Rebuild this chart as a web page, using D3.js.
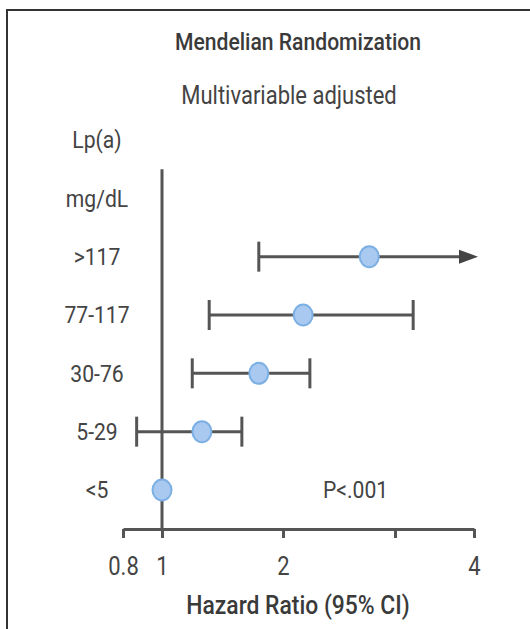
<!DOCTYPE html>
<html>
<head>
<meta charset="utf-8">
<script src="https://cdn.jsdelivr.net/npm/d3@7"></script>
<style>
  html, body { margin: 0; padding: 0; background: #fff; }
  svg { display: block; }
  text { font-family: Roboto, "Noto Sans", sans-serif; fill: #444; }
</style>
</head>
<body>
<script>
// Lp(a) categories, top to bottom
const categories = [">117", "77-117", "30-76", "5-29", "<5"];
// Hazard ratios and 95% CI bounds (null upper = interval runs off the axis)
const hazardRatio = [2.77, 2.18, 1.80, 1.33, 1.00];
const ciLower     = [1.80, 1.39, 1.25, 0.87, null];
const ciUpper     = [null, 3.23, 2.24, 1.66, null];
// Axis ticks
const tickValues = [0.8, 1, 2, 3, 4];
const tickLabels = ["0.8", "1", "2", "", "4"];
const headerRows = ["Lp(a)", "mg/dL"];

const W = 530, H = 629;
const NARROW = 0.88; // horizontal squeeze for a condensed look
const svg = d3.select("body").append("svg").attr("width", W).attr("height", H);

// Condensed text placed at (x, y)
function label(parent, x, y, str, opts = {}) {
  const t = parent.append("text")
    .attr("transform", `translate(${x},${y}) scale(${NARROW},1)`)
    .attr("text-anchor", opts.anchor || "middle")
    .attr("font-size", opts.size || 24)
    .text(str);
  if (opts.weight) t.attr("font-weight", opts.weight);
  if (opts.fill) t.style("fill", opts.fill);
  if (opts.dy) t.attr("dy", opts.dy);
  return t;
}

// Frame (top and left edges)
svg.append("path")
  .attr("d", `M7,${H} V10 H${W}`)
  .attr("fill", "none").attr("stroke", "#333").attr("stroke-width", 2);

// Titles
label(svg, 298, 50, "Mendelian Randomization", { size: 24, weight: 500, fill: "#3a3a3a" });
label(svg, 289, 104, "Multivariable adjusted", { size: 25 });

// Horizontal scale anchored at each tick
const x = d3.scaleLinear().domain(tickValues).range([123, 162, 283, 395, 474]);
// Row positions
const rows = headerRows.concat(categories);
const y = d3.scalePoint().domain(rows).range([140, 490]);
const axisY = 529;

// Row labels
const gRows = svg.append("g");
rows.forEach(r => label(gRows, 97, y(r), r, { size: 24, dy: "0.35em" }));

// Axis
const axis = d3.axisBottom(x).tickValues(tickValues)
  .tickFormat((d, i) => tickLabels[i]).tickSize(9).tickSizeOuter(0).tickPadding(19);
const gAxis = svg.append("g").attr("transform", `translate(0,${axisY})`).call(axis);
gAxis.attr("font-family", null).attr("font-size", null);
gAxis.select(".domain").attr("stroke", "#555").attr("stroke-width", 3);
gAxis.selectAll(".tick line").attr("stroke", "#555").attr("stroke-width", 3);
gAxis.selectAll(".tick text")
  .attr("transform", `scale(${NARROW},1)`)
  .style("font-size", "25px").style("fill", "#444");

label(svg, 298, 614, "Hazard Ratio (95% CI)", { size: 26, weight: 500, fill: "#3a3a3a" });

// Reference line at HR = 1
const refTop = (y(headerRows[0]) + y(headerRows[1])) / 2;
svg.append("line").attr("x1", x(1)).attr("x2", x(1))
  .attr("y1", refTop).attr("y2", axisY)
  .attr("stroke", "#555").attr("stroke-width", 3);

const data = categories.map((c, i) => ({ c, hr: hazardRatio[i], lo: ciLower[i], hi: ciUpper[i] }));
const capH = 15;
const arrowLen = 18;
const xEnd = x.range()[x.range().length - 1];

const g = svg.append("g");
data.filter(d => d.lo != null).forEach(d => {
  const yy = y(d.c);
  const x1 = x(d.lo);
  const x2 = d.hi != null ? x(d.hi) : xEnd + 4 - arrowLen;
  g.append("line").attr("x1", x1).attr("x2", x2).attr("y1", yy).attr("y2", yy)
    .attr("stroke", "#555").attr("stroke-width", 3);
  g.append("line").attr("x1", x1).attr("x2", x1).attr("y1", yy - capH).attr("y2", yy + capH)
    .attr("stroke", "#555").attr("stroke-width", 3);
  if (d.hi != null) {
    g.append("line").attr("x1", x2).attr("x2", x2).attr("y1", yy - capH).attr("y2", yy + capH)
      .attr("stroke", "#555").attr("stroke-width", 3);
  } else {
    g.append("path")
      .attr("d", `M${x2 - 1},${yy - 7} L${x2 + arrowLen},${yy} L${x2 - 1},${yy + 7} Z`)
      .attr("fill", "#444");
  }
});

// Point estimates
g.selectAll("ellipse").data(data).join("ellipse")
  .attr("cx", d => x(d.hr)).attr("cy", d => y(d.c))
  .attr("rx", 9.5).attr("ry", 10.5)
  .attr("fill", "#a9c9f0").attr("stroke", "#7cafe3").attr("stroke-width", 2);

label(svg, 323, y("<5"), "P<.001", { size: 24, anchor: "start", dy: "0.35em" });
</script>
</body>
</html>
